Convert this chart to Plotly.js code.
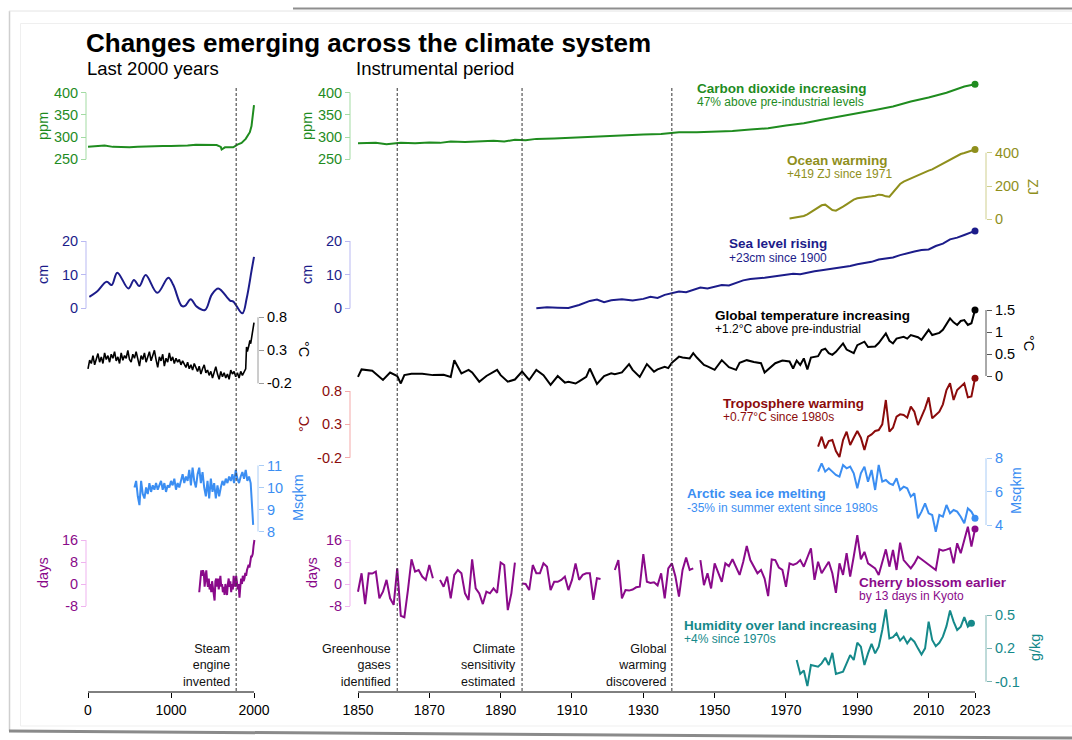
<!DOCTYPE html>
<html>
<head>
<meta charset="utf-8">
<script src="https://cdn.plot.ly/plotly-3.0.1.min.js"></script>
<style>html,body{margin:0;padding:0;background:#fff;}#chart{width:1072px;height:740px;}</style>
</head>
<body>
<div id="chart"></div>
<script>
// ---------------- DATA ----------------
// Last 2000 years
const co2LongYears = [0,100,200,300,400,500,600,700,800,900,1000,1100,1200,1300,1400,1500,1550,1600,1610,1650,1700,1750,1800,1850,1900,1950,1970,1990,2000];
const co2LongPpm   = [278,279,281,278,277,277,278,279,279,280,280,280,281,283,282,281,282,278,272,277,277,277,283,287,296,311,325,354,372];

const seaLongYears = [16,105,225,285,353,486,554,618,695,835,968,1028,1129,1169,1237,1310,1410,1490,1570,1711,1751,1860,1912,1972,2000];
const seaLongCm    = [3.4,4.9,7.9,6.9,10.6,5.9,8.4,6.6,9.9,4.6,9.1,6.9,0.7,0.7,2.7,0.5,-0.5,4.0,5.9,2.3,2.0,-1.5,3.0,11.4,15.3];

const tempLongYears = [0,20,40,60,80,100,120,140,160,180,200,220,240,260,280,300,320,340,360,380,400,420,440,460,480,500,520,540,560,580,600,620,640,660,680,700,720,740,760,780,800,820,840,860,880,900,920,940,960,980,1000,1020,1040,1060,1080,1100,1120,1140,1160,1180,1200,1220,1240,1260,1280,1300,1320,1340,1360,1380,1400,1420,1440,1460,1480,1500,1520,1540,1560,1580,1600,1620,1640,1660,1680,1700,1720,1740,1760,1780,1800,1820,1840,1860,1880,1900,1910,1920,1940,1950,1960,1980,1990,2000];
const tempLongC = [0.02,0.15,0.10,0.22,0.08,0.18,0.25,0.12,0.20,0.10,0.26,0.16,0.22,0.12,0.24,0.18,0.28,0.14,0.20,0.10,0.26,0.15,0.22,0.18,0.30,0.16,0.12,0.24,0.18,0.28,0.14,0.06,0.22,0.16,0.26,0.12,0.20,0.28,0.14,0.22,0.30,0.16,0.04,0.20,0.14,0.24,0.06,0.18,0.12,0.26,0.14,0.20,0.10,0.18,0.12,0.16,0.08,0.14,0.10,0.04,0.12,0.02,0.08,0.00,0.10,0.04,-0.02,0.06,-0.06,0.02,0.08,-0.04,0.00,-0.08,-0.02,-0.12,-0.03,0.05,-0.06,-0.14,-0.02,-0.10,-0.04,-0.12,-0.06,-0.14,0.00,-0.06,-0.02,-0.10,-0.04,-0.12,-0.02,-0.08,-0.03,0.02,0.35,0.28,0.38,0.45,0.40,0.55,0.62,0.72];

const iceLongYears = [560,580,600,620,640,660,680,700,720,740,760,780,800,820,840,860,880,900,920,940,960,980,1000,1020,1040,1060,1080,1100,1120,1140,1160,1180,1200,1220,1240,1260,1280,1300,1320,1340,1360,1380,1400,1420,1440,1460,1480,1500,1520,1540,1560,1580,1600,1620,1640,1660,1680,1700,1720,1740,1760,1780,1800,1820,1840,1860,1880,1900,1920,1940,1960,1980,1990];
const iceLongMsqkm = [10.0,10.3,9.6,9.2,10.3,9.7,9.5,10.0,9.7,10.2,9.8,10.1,9.9,10.2,9.9,10.1,10.3,9.9,10.2,9.8,10.1,10.0,10.3,10.1,10.4,9.9,10.2,10.0,10.3,10.6,10.2,10.5,10.3,10.8,10.1,10.9,10.3,10.0,10.6,10.9,10.2,10.7,10.0,9.6,10.3,9.5,10.4,9.8,10.2,9.5,10.1,9.6,10.0,10.3,10.1,10.4,10.2,10.5,10.3,10.6,10.2,10.8,10.4,10.2,10.5,10.7,10.4,10.8,10.3,10.5,10.2,8.6,8.3];

const cherryLongYears = [1340,1355,1365,1375,1385,1395,1405,1415,1425,1435,1445,1455,1465,1475,1485,1495,1505,1515,1525,1535,1545,1555,1565,1575,1585,1595,1605,1615,1625,1635,1645,1655,1665,1675,1685,1695,1705,1715,1725,1735,1745,1755,1765,1775,1785,1795,1805,1815,1825,1835,1845,1855,1865,1875,1885,1895,1905,1915,1925,1935,1945,1955,1965,1975,1985,1995,2005];
const cherryLongDays  = [-3,1,5,3,5,4,-1,2,5,1,-1,2,-2,0,-3,1,-1,-4,-6,1,2,-1,2,-2,1,3,-1,0,-3,-1,-4,0,-2,-4,0,2,-1,1,-3,0,-2,3,0,-1,3,1,-2,0,-5,-1,2,0,3,1,2,4,3,5,6,7,6,8,10,10,11,14,16];

// Instrumental period
const co2Years = [1850,1855,1858,1862,1866,1870,1873,1876,1880,1884,1888,1891,1894,1897,1900,1905,1910,1915,1920,1925,1930,1935,1940,1945,1950,1955,1960,1965,1970,1975,1980,1985,1990,1995,2000,2005,2010,2015,2020,2023];
const co2Ppm   = [286,287,284,287,286,288,287,290,289,290,292,290,294,293,296,297,299,301,302,304,306,307,311,311,312,314,317,320,326,331,339,346,354,361,369,380,389,400,414,419];

const oceanYears = [1971,1972,1973,1974,1975,1976,1977,1978,1979,1980,1981,1982,1983,1984,1985,1986,1987,1988,1989,1990,1991,1992,1993,1994,1995,1996,1997,1998,1999,2000,2001,2002,2003,2004,2005,2006,2007,2008,2009,2010,2011,2012,2013,2014,2015,2016,2017,2018,2019,2020,2021,2022,2023];
const oceanZJ    = [5,8,10,14,20,30,44,60,74,84,88,70,56,52,62,76,90,104,118,126,128,130,134,138,142,148,146,138,136,160,190,212,226,236,246,254,264,274,284,292,300,312,324,336,346,356,368,380,392,398,406,414,419];

const seaYears = [1900,1903,1906,1909,1912,1915,1917,1919,1921,1924,1927,1930,1932,1934,1936,1938,1940,1942,1944,1946,1948,1950,1952,1954,1956,1958,1960,1962,1964,1966,1968,1970,1972,1974,1976,1978,1980,1982,1984,1986,1988,1990,1992,1994,1996,1998,2000,2002,2004,2006,2008,2010,2012,2014,2016,2018,2020,2022,2023];
const seaCm    = [0,0.3,0.2,0.1,1.0,2.2,2.6,1.8,2.4,2.7,2.3,2.8,3.4,3.1,4.0,4.6,5.0,4.8,5.6,6.2,5.9,6.5,6.9,6.8,7.6,8.3,8.7,8.8,9.1,9.4,9.7,9.8,10.3,10.1,10.6,11.0,11.3,11.6,11.9,12.1,12.6,13.1,13.4,13.8,14.5,14.9,15.1,15.8,16.4,16.9,17.3,17.5,18.5,19.2,20.5,21.0,21.8,22.6,23.0];

const gtYears = [1850,1851,1854,1857,1859,1861,1862,1863,1865,1868,1871,1874,1876,1877,1879,1881,1882,1884,1886,1889,1890,1892,1894,1896,1898,1900,1902,1904,1906,1908,1909,1911,1912,1914,1915,1917,1919,1921,1922,1924,1926,1927,1929,1931,1933,1934,1936,1937,1938,1939,1940,1941,1943,1944,1945,1947,1948,1950,1951,1952,1954,1956,1957,1959,1961,1963,1964,1965,1967,1969,1971,1972,1973,1974,1975,1976,1977,1979,1980,1981,1982,1983,1984,1986,1987,1989,1990,1992,1993,1995,1996,1998,1999,2000,2001,2003,2004,2005,2006,2007,2008,2010,2011,2012,2013,2014,2015,2016,2017,2018,2019,2020,2021,2022,2023];
const gtC     = [-0.02,0.15,0.12,-0.09,0.08,0.0,-0.17,0.02,0.05,0.05,0.02,0.03,-0.02,0.36,0.06,0.14,0.08,-0.13,0.0,0.14,0.02,-0.13,-0.08,0.10,-0.09,0.14,0.02,-0.2,0.0,-0.15,-0.13,-0.17,-0.12,-0.02,0.17,-0.18,0.0,0.06,0.04,0.08,0.27,0.14,-0.02,0.27,0.1,0.15,0.21,0.18,0.30,0.36,0.44,0.42,0.40,0.52,0.42,0.25,0.22,0.14,0.25,0.36,0.2,0.14,0.3,0.36,0.32,0.29,0.08,0.15,0.29,0.35,0.33,0.17,0.35,0.25,0.40,0.15,0.42,0.45,0.59,0.62,0.52,0.48,0.55,0.74,0.6,0.52,0.7,0.78,0.66,0.67,0.75,0.97,0.80,0.74,0.85,0.89,0.85,0.93,0.9,0.88,0.82,1.05,0.93,0.96,0.98,1.05,1.18,1.31,1.22,1.16,1.25,1.27,1.16,1.2,1.5];

const tropoYears = [1979,1980,1981,1982,1983,1984,1985,1986,1987,1988,1989,1990,1991,1992,1993,1994,1995,1996,1997,1998,1999,2000,2001,2002,2003,2004,2005,2006,2007,2008,2009,2010,2011,2012,2013,2014,2015,2016,2017,2018,2019,2020,2021,2022,2023];
const tropoC     = [-0.035,0.115,-0.06,0.05,0.065,-0.1,-0.19,0.065,0.19,-0.01,0.1,0.2,0.1,-0.085,0.115,0.15,0.2,0.215,0.3,0.665,0.19,0.25,0.415,0.45,0.44,0.4,0.565,0.49,0.29,0.42,0.54,0.705,0.39,0.44,0.49,0.6,0.815,0.915,0.665,0.815,0.87,0.915,0.705,0.72,0.99];

const iceYears = [1979,1980,1981,1982,1983,1984,1985,1986,1987,1988,1989,1990,1991,1992,1993,1994,1995,1996,1997,1998,1999,2000,2001,2002,2003,2004,2005,2006,2007,2008,2009,2010,2011,2012,2013,2014,2015,2016,2017,2018,2019,2020,2021,2022,2023];
const iceMsqkm = [7.2,7.7,7.2,7.4,7.2,7.0,6.9,7.6,7.4,7.5,7.1,6.2,7.1,7.5,6.6,7.3,6.1,7.6,6.6,6.7,6.5,6.4,6.8,6.1,6.3,6.2,5.7,5.9,4.4,4.8,5.3,4.7,4.6,3.6,4.6,4.5,5.2,4.7,4.9,4.8,4.5,4.1,5.0,4.8,4.4];

const cherryYears = [1850,1851,1852,1853,1854,1855,1856,1857,1858,1859,1860,1861,1862,1863,1864,1865,1866,1867,1868,1869,1870,1871,1872,1873,1874,1875,1876,1877,1878,1879,1880,1881,1882,1883,1884,1885,1886,1887,1888,1889,1890,1891,1892,1893,1894,1895,1896,1897,1898,1899,1900,1901,1902,1903,1904,1905,1906,1907,1908,1909,1910,1911,1912,1913,1914,1915,1916,1917,1918,1919,1922,1923,1924,1925,1926,1927,1928,1929,1930,1931,1932,1933,1934,1935,1936,1937,1938,1939,1940,1941,1942,1943,1944,1945,1946,1947,1948,1949,1950,1951,1952,1953,1954,1955,1956,1957,1958,1959,1960,1961,1962,1963,1964,1965,1966,1967,1968,1969,1970,1971,1972,1973,1974,1975,1976,1977,1978,1979,1980,1981,1982,1983,1984,1985,1986,1987,1988,1989,1990,1991,1992,1993,1994,1995,1996,1997,1998,1999,2000,2001,2002,2003,2004,2005,2006,2007,2008,2009,2010,2011,2012,2013,2014,2015,2016,2017,2018,2019,2020,2021,2022,2023];
const cherryDays  = [-2.8,3.9,-7.3,3.9,3.8,4.5,-5.2,-2.8,1.5,-5.2,-7.6,5.7,-11.6,-12.1,-2.2,9.0,4.5,5.1,2.7,1.5,6.9,2.1,null,1.5,-1.0,2.7,-5.2,3.3,5.1,3.9,-3.4,-5.8,9.0,-1.6,-3.4,-7.3,-2.8,-3.4,-1.6,-3.2,7.8,6.9,-9.5,-3.4,7.8,null,0.2,0.0,-2.2,6.9,3.9,3.9,7.5,6.3,-2.2,0.8,0.8,1.5,2.7,-2.2,1.5,7.5,1.5,3.3,3.9,3.9,-5.8,2.1,1.8,null,5.1,8.7,-5.2,-2.2,-2.4,-2.0,-1.2,-1.0,10.9,0.8,0.4,0.6,-0.5,3.9,-5.2,5.7,7.5,2.7,-4.6,5.1,9.6,5.1,5.7,null,8.7,-0.4,3.9,-1.6,7.5,4.0,0.8,7.5,6.5,9.0,6.0,3.3,8.0,13.8,8.7,6.0,3.9,5.1,2.0,-4.4,8.9,8.7,6.0,5.1,-1.0,7.5,6.9,7.5,8.7,6.3,10.0,13.0,1.5,8.1,3.9,6.0,8.1,3.9,-3.2,7.5,3.3,11.2,2.7,10.0,17.8,9.0,11.7,7.5,6.5,5.7,3.3,8.0,12.6,6.3,12.4,5.1,15.0,8.7,7.0,5.7,7.5,9.9,9.0,8.1,7.0,6.0,5.1,12.6,12.1,12.5,13.0,7.5,14.8,11.2,16.0,20.8,13.6,20.0];

const humYears = [1973,1974,1975,1976,1977,1978,1979,1980,1981,1982,1983,1984,1985,1986,1987,1988,1989,1990,1991,1992,1993,1994,1995,1996,1997,1998,1999,2000,2001,2002,2003,2004,2005,2006,2007,2008,2009,2010,2011,2012,2013,2014,2015,2016,2017,2018,2019,2020,2021,2022];
const humGkg   = [0.095,-0.03,0.0,-0.14,0.05,0.04,0.035,0.065,0.115,0.05,0.16,-0.03,-0.02,-0.01,0.065,0.14,0.095,0.25,0.215,0.05,0.155,0.24,0.155,0.215,0.365,0.55,0.29,0.3,0.335,0.27,0.305,0.245,0.29,0.26,0.2,0.145,0.2,0.44,0.275,0.22,0.25,0.305,0.4,0.54,0.44,0.365,0.395,0.48,0.395,0.425];

// Events
const eventLongYear = 1785;
const eventLongLabel = "Steam<br>engine<br>invented";
const eventYears  = [1861, 1896, 1938];
const eventLabels = ["Greenhouse<br>gases<br>identified", "Climate<br>sensitivity<br>estimated", "Global<br>warming<br>discovered"];

// Tick labels
const xLongTicks = [0, 1000, 2000];
const xTicks = [1850, 1870, 1890, 1910, 1930, 1950, 1970, 1990, 2010, 2023];

// ---------------- LAYOUT HELPERS ----------------
const W = 1072, H = 740;
const FONT = "Liberation Sans, Arial, Helvetica, sans-serif";
const px = x => x / W;
const py = y => 1 - y / H;
function xRange(v1, p1, v2, p2) { const s = (v2 - v1) / (p2 - p1); return [v1 + (0 - p1) * s, v1 + (W - p1) * s]; }
function yRange(v1, p1, v2, p2) { const s = (v2 - v1) / (p2 - p1); return [v1 + (H - p1) * s, v1 + (0 - p1) * s]; }

const C = {
  co2: '#1f8c1f', co2L: '#a3dba3',
  ocean: '#8f8f1c', oceanL: '#cfcf8e',
  sea: '#1c1c8a', seaL: '#b9b9f2',
  temp: '#000000', tempL: '#9a9a9a', tempR: '#555555',
  tropo: '#8b0b0b', tropoL: '#f4a9a9',
  ice: '#3b8ef2', iceL: '#a9ccf6',
  cherry: '#8a0a8a', cherryL: '#efb3ef',
  hum: '#15898a', humL: '#7fb6b3'
};

const layout = {
  width: W, height: H,
  margin: {l: 0, r: 0, t: 0, b: 0, pad: 0},
  paper_bgcolor: '#ffffff', plot_bgcolor: 'rgba(0,0,0,0)',
  showlegend: false, hovermode: false,
  font: {family: FONT, color: '#000'},
  shapes: [], annotations: []
};

function xaxisDef(v1, p1, v2, p2, ticks, overl) {
  const a = {
    range: xRange(v1, p1, v2, p2), tickvals: ticks, ticktext: ticks.map(String),
    ticks: 'outside', ticklen: 5, tickwidth: 1, tickcolor: '#000',
    tickfont: {size: 14, color: '#000', family: FONT},
    showgrid: false, zeroline: false, showline: false, fixedrange: true,
    anchor: 'free', position: py(692)
  };
  if (overl) a.overlaying = 'x';
  return a;
}
layout.xaxis  = xaxisDef(0, 88, 2000, 254, xLongTicks, false);
layout.xaxis2 = xaxisDef(1850, 358, 2023, 975, xTicks, true);

// y axes: [id, xPixel, side, v1, p1, v2, p2, tickvals, ticktext, lineColor, textColor]
const yDefs = [
  ['y',   86,  'left',  250, 159.3, 400, 92.7, [250,300,350,400], ['250','300','350','400'], C.co2L, C.co2],
  ['y2',  86,  'left',  0, 308.3, 20, 241, [0,10,20], ['0','10','20'], C.seaL, C.sea],
  ['y3',  258, 'right', -0.2, 383.3, 0.8, 317.3, [-0.2,0.3,0.8], ['-0.2','0.3','0.8'], C.tempL, C.temp],
  ['y4',  258, 'right', 8, 531.5, 11, 465.5, [8,9,10,11], ['8','9','10','11'], C.iceL, C.ice],
  ['y5',  86,  'left',  -8, 606, 16, 540, [-8,0,8,16], ['-8','0','8','16'], C.cherryL, C.cherry],
  ['y6',  350, 'left',  250, 159.3, 400, 92.7, [250,300,350,400], ['250','300','350','400'], C.co2L, C.co2],
  ['y7',  986, 'right', 0, 219.3, 400, 152.7, [0,200,400], ['0','200','400'], C.oceanL, C.ocean],
  ['y8',  350, 'left',  0, 308.3, 20, 241, [0,10,20], ['0','10','20'], C.seaL, C.sea],
  ['y9',  986, 'right', 0, 376, 1.5, 310, [0,0.5,1,1.5], ['0','0.5','1','1.5'], C.tempR, C.temp],
  ['y10', 350, 'left',  -0.2, 457.7, 0.8, 391, [-0.2,0.3,0.8], ['-0.2','0.3','0.8'], C.tropoL, C.tropo],
  ['y11', 986, 'right', 4, 525, 8, 458.3, [4,6,8], ['4','6','8'], C.iceL, C.ice],
  ['y12', 350, 'left',  -8, 606, 16, 540, [-8,0,8,16], ['-8','0','8','16'], C.cherryL, C.cherry],
  ['y13', 986, 'right', -0.1, 681.7, 0.5, 615, [-0.1,0.2,0.5], ['-0.1','0.2','0.5'], C.humL, C.hum]
];
yDefs.forEach(d => {
  const [id, xp, side, v1, p1, v2, p2, tv, tt, lc, tc] = d;
  const key = id === 'y' ? 'yaxis' : 'yaxis' + id.slice(1);
  const a = {
    range: yRange(v1, p1, v2, p2), tickvals: tv, ticktext: tt,
    ticks: 'outside', ticklen: 5, tickwidth: 1, tickcolor: lc,
    tickfont: {size: 14.5, color: tc, family: FONT},
    showgrid: false, zeroline: false, showline: false, fixedrange: true,
    anchor: 'free', position: px(xp), side: side
  };
  if (id !== 'y') a.overlaying = 'y';
  layout[key] = a;
  layout.shapes.push({type: 'line', xref: 'paper', yref: id, x0: px(xp), x1: px(xp),
    y0: tv[0], y1: tv[tv.length - 1], line: {color: lc, width: 1}});
});

// x-axis lines
layout.shapes.push({type: 'line', xref: 'x', yref: 'paper', x0: xLongTicks[0], x1: xLongTicks[xLongTicks.length - 1], y0: py(692), y1: py(692), line: {color: '#000', width: 1}});
layout.shapes.push({type: 'line', xref: 'x2', yref: 'paper', x0: xTicks[0], x1: xTicks[xTicks.length - 1], y0: py(692), y1: py(692), line: {color: '#000', width: 1}});

// event dashed lines
const dashStyle = {color: '#333', width: 1, dash: '3px,2px'};
layout.shapes.push({type: 'line', xref: 'x', yref: 'paper', x0: eventLongYear, x1: eventLongYear, y0: py(88), y1: py(692), line: dashStyle});
eventYears.forEach(yr => layout.shapes.push({type: 'line', xref: 'x2', yref: 'paper', x0: yr, x1: yr, y0: py(88), y1: py(692), line: dashStyle}));

// frame
layout.shapes.push({type: 'line', xref: 'paper', yref: 'paper', x0: px(293), x1: 1, y0: py(8.5), y1: py(8.5), line: {color: '#8e8e8e', width: 2}});
layout.shapes.push({type: 'line', xref: 'paper', yref: 'paper', x0: px(9.5), x1: px(9.5), y0: py(11), y1: py(731), line: {color: '#cfcfcf', width: 1.5}});
layout.shapes.push({type: 'line', xref: 'paper', yref: 'paper', x0: px(9), x1: 1, y0: py(11), y1: py(11), line: {color: '#e4e4e4', width: 1}});
layout.shapes.push({type: 'rect', xref: 'paper', yref: 'paper', x0: px(20.5), x1: 1.01, y0: py(23.5), y1: py(726), line: {color: '#efefef', width: 1}});
layout.shapes.push({type: 'line', xref: 'paper', yref: 'paper', x0: px(9), x1: 1, y0: py(731), y1: py(738), line: {color: '#8a8a8a', width: 3}});

// ---------------- TEXT ----------------
function ann(text, xp, yp, opts) {
  return Object.assign({text: text, xref: 'paper', yref: 'paper', x: px(xp), y: py(yp),
    xanchor: 'left', yanchor: 'middle', showarrow: false, borderpad: 0,
    font: {family: FONT, size: 12, color: '#000'}}, opts || {});
}
const A = layout.annotations;
A.push(ann('<b>Changes emerging across the climate system</b>', 85, 42.5, {font: {family: FONT, size: 26, color: '#000'}}));
A.push(ann('Last 2000 years', 86, 68.5, {font: {family: FONT, size: 18.5, color: '#000'}}));
A.push(ann('Instrumental period', 355, 68.5, {font: {family: FONT, size: 18.5, color: '#000'}}));

// axis titles
function axTitle(t, xp, yp, color, angle) {
  return ann(t, xp, yp, {xanchor: 'center', yanchor: 'middle', textangle: angle, font: {family: FONT, size: 14.5, color: color}});
}
A.push(axTitle('ppm', 43, 126, C.co2, -90));
A.push(axTitle('cm', 43, 275, C.sea, -90));
A.push(axTitle('days', 43, 573, C.cherry, -90));
A.push(axTitle('°C', 304, 349, C.temp, 90));
A.push(axTitle('Msqkm', 298, 498, C.ice, -90));
A.push(axTitle('ppm', 307, 126, C.co2, -90));
A.push(axTitle('cm', 307, 275, C.sea, -90));
A.push(axTitle('°C', 304, 424, C.tropo, -90));
A.push(axTitle('days', 312, 573, C.cherry, -90));
A.push(axTitle('ZJ', 1033, 187, C.ocean, 90));
A.push(axTitle('°C', 1029, 343, C.temp, 90));
A.push(axTitle('Msqkm', 1016, 491, C.ice, -90));
A.push(axTitle('g/kg', 1035, 648, C.hum, -90));

// series labels
function seriesLabel(title, sub, xp, yp, color) {
  A.push(ann('<b>' + title + '</b>', xp, yp, {font: {family: FONT, size: 13.5, color: color}}));
  A.push(ann(sub, xp, yp + 14, {font: {family: FONT, size: 12, color: color}}));
}
seriesLabel('Carbon dioxide increasing', '47% above pre-industrial levels', 696, 88, C.co2);
seriesLabel('Ocean warming', '+419 ZJ since 1971', 786, 160, C.ocean);
seriesLabel('Sea level rising', '+23cm since 1900', 728, 244, C.sea);
seriesLabel('Global temperature increasing', '+1.2°C above pre-industrial', 714, 315, C.temp);
seriesLabel('Troposphere warming', '+0.77°C since 1980s', 722, 403, C.tropo);
seriesLabel('Arctic sea ice melting', '-35% in summer extent since 1980s', 686, 494, C.ice);
seriesLabel('Cherry blossom earlier', 'by 13 days in Kyoto', 858, 582, C.cherry);
seriesLabel('Humidity over land increasing', '+4% since 1970s', 683, 625, C.hum);

// event labels
function evLabel(t, xr, x) {
  return {text: t, xref: xr, yref: 'paper', x: x, y: py(665), xanchor: 'right', yanchor: 'middle',
    xshift: -4, align: 'right', showarrow: false, font: {family: FONT, size: 12.5, color: '#111'}};
}
A.push(evLabel(eventLongLabel, 'x', eventLongYear));
eventYears.forEach((yr, i) => A.push(evLabel(eventLabels[i], 'x2', yr)));

// ---------------- TRACES ----------------
function line(x, y, xa, ya, color, extra) {
  return Object.assign({type: 'scatter', mode: 'lines', x: x, y: y, xaxis: xa, yaxis: ya,
    line: {color: color, width: 2}, hoverinfo: 'skip', connectgaps: false}, extra || {});
}
function dot(x, y, xa, ya, color) {
  return {type: 'scatter', mode: 'markers', x: [x[x.length - 1]], y: [y[y.length - 1]], xaxis: xa, yaxis: ya,
    marker: {color: color, size: 7}, hoverinfo: 'skip', cliponaxis: false};
}
const traces = [
  line(co2LongYears, co2LongPpm, 'x', 'y', C.co2),
  line(seaLongYears, seaLongCm, 'x', 'y2', C.sea, {line: {color: C.sea, width: 2, shape: 'spline', smoothing: 1}}),
  line(tempLongYears, tempLongC, 'x', 'y3', C.temp, {line: {color: C.temp, width: 1.6}}),
  line(iceLongYears, iceLongMsqkm, 'x', 'y4', C.ice),
  line(cherryLongYears, cherryLongDays, 'x', 'y5', C.cherry),
  line(co2Years, co2Ppm, 'x2', 'y6', C.co2), dot(co2Years, co2Ppm, 'x2', 'y6', C.co2),
  line(oceanYears, oceanZJ, 'x2', 'y7', C.ocean), dot(oceanYears, oceanZJ, 'x2', 'y7', C.ocean),
  line(seaYears, seaCm, 'x2', 'y8', C.sea), dot(seaYears, seaCm, 'x2', 'y8', C.sea),
  line(gtYears, gtC, 'x2', 'y9', C.temp), dot(gtYears, gtC, 'x2', 'y9', C.temp),
  line(tropoYears, tropoC, 'x2', 'y10', C.tropo), dot(tropoYears, tropoC, 'x2', 'y10', C.tropo),
  line(iceYears, iceMsqkm, 'x2', 'y11', C.ice), dot(iceYears, iceMsqkm, 'x2', 'y11', C.ice),
  line(cherryYears, cherryDays, 'x2', 'y12', C.cherry), dot(cherryYears, cherryDays, 'x2', 'y12', C.cherry),
  line(humYears, humGkg, 'x2', 'y13', C.hum), dot(humYears, humGkg, 'x2', 'y13', C.hum)
];

Plotly.newPlot('chart', traces, layout, {staticPlot: true, displayModeBar: false});
</script>
</body>
</html>
